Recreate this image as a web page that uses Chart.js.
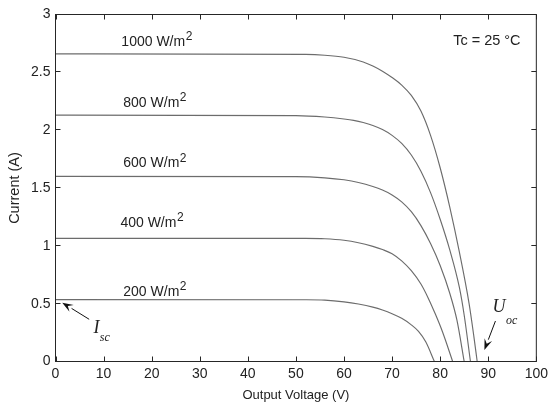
<!DOCTYPE html>
<html>
<head>
<meta charset="utf-8">
<script src="https://cdn.jsdelivr.net/npm/chart.js@4.4.1/dist/chart.umd.min.js"></script>
<style>
  html, body { margin: 0; padding: 0; background: #fff; }
  canvas { display: block; }
</style>
</head>
<body>
<canvas id="iv" width="552" height="403"></canvas>
<script>
// I-V characteristics of a PV array at several irradiance levels (Tc = 25 °C)
const irradiances = ['1000', '800', '600', '400', '200'];

const voltage1000 = [0, 52, 56, 60, 64, 66, 68, 70, 72, 74, 76, 78, 80, 82, 84, 86, 87, 87.7];
const current1000 = [2.66, 2.655, 2.648, 2.63, 2.59, 2.555, 2.51, 2.455, 2.39, 2.30, 2.165, 1.955, 1.675, 1.335, 0.945, 0.505, 0.22, 0];

const voltage800 = [0, 50, 56, 60, 62, 64, 66, 68, 70, 72, 74, 76, 78, 80, 82, 84, 85, 86.3];
const current800 = [2.13, 2.126, 2.114, 2.097, 2.085, 2.066, 2.04, 2.005, 1.955, 1.885, 1.785, 1.645, 1.46, 1.23, 0.965, 0.64, 0.40, 0];

const voltage600 = [0, 50, 56, 60, 63, 66, 68, 70, 72, 74, 76, 78, 80, 82, 83.5, 85];
const current600 = [1.60, 1.598, 1.588, 1.571, 1.548, 1.513, 1.482, 1.44, 1.38, 1.295, 1.175, 1.02, 0.83, 0.59, 0.355, 0];

const voltage400 = [0, 52, 56, 60, 63, 66, 68, 70, 72, 74, 76, 77.5, 79, 80.5, 82.6];
const current400 = [1.065, 1.064, 1.061, 1.048, 1.027, 0.995, 0.968, 0.932, 0.87, 0.785, 0.67, 0.55, 0.41, 0.255, 0];

const voltage200 = [0, 52, 56, 60, 63, 66, 68, 70, 72, 74, 75.5, 77, 78.8];
const current200 = [0.535, 0.534, 0.531, 0.516, 0.497, 0.47, 0.445, 0.413, 0.373, 0.317, 0.26, 0.17, 0];

const xTicks = [0, 10, 20, 30, 40, 50, 60, 70, 80, 90, 100];
const yTicks = [0, 0.5, 1, 1.5, 2, 2.5, 3];

// where each irradiance caption sits (data units: left edge, vertical centre)
const captionX = [13.7, 14.1, 14.1, 13.5, 14.1];
const captionY = [2.762, 2.234, 1.714, 1.199, 0.602];

const seriesV = [voltage1000, voltage800, voltage600, voltage400, voltage200];
const seriesI = [current1000, current800, current600, current400, current200];

const datasets = irradiances.map((g, k) => ({
  label: g + ' W/m2',
  data: seriesV[k].map((v, i) => ({ x: v, y: seriesI[k][i] })),
  borderColor: '#6c6c6c',
  borderWidth: 1.15,
  pointRadius: 0,
  fill: false,
  cubicInterpolationMode: 'monotone'
}));

const SANS = '"Liberation Sans", Arial, sans-serif';
const SERIF = '"Liberation Serif", "Times New Roman", serif';

function arrow(ctx, x1, y1, x2, y2) {
  const ang = Math.atan2(y2 - y1, x2 - x1);
  const len = 11, half = 4;
  const bx = x2 - len * Math.cos(ang), by = y2 - len * Math.sin(ang);
  ctx.beginPath();
  ctx.moveTo(x1, y1);
  ctx.lineTo(bx, by);
  ctx.stroke();
  ctx.beginPath();
  ctx.moveTo(x2, y2);
  ctx.lineTo(bx + half * Math.sin(ang), by - half * Math.cos(ang));
  ctx.lineTo(x2 - 0.6 * len * Math.cos(ang), y2 - 0.6 * len * Math.sin(ang));
  ctx.lineTo(bx - half * Math.sin(ang), by + half * Math.cos(ang));
  ctx.closePath();
  ctx.fill();
}

const decor = {
  id: 'decor',
  afterDraw(chart) {
    const { ctx, chartArea: a, scales: { x, y } } = chart;
    ctx.save();

    // axes box
    ctx.strokeStyle = '#262626';
    ctx.lineWidth = 1;
    ctx.strokeRect(a.left, a.top, a.right - a.left, a.bottom - a.top);

    // inward tick marks on all four sides
    const tl = 5;
    ctx.beginPath();
    xTicks.forEach(v => {
      const px = Math.round(x.getPixelForValue(v)) + 0.5;
      ctx.moveTo(px, a.bottom); ctx.lineTo(px, a.bottom - tl);
      ctx.moveTo(px, a.top); ctx.lineTo(px, a.top + tl);
    });
    yTicks.forEach(v => {
      const py = Math.round(y.getPixelForValue(v)) - 0.5;
      ctx.moveTo(a.left, py); ctx.lineTo(a.left + tl, py);
      ctx.moveTo(a.right, py); ctx.lineTo(a.right - tl, py);
    });
    ctx.stroke();

    // irradiance captions
    ctx.fillStyle = '#222';
    ctx.textBaseline = 'middle';
    ctx.textAlign = 'left';
    irradiances.forEach((g, k) => {
      const px = x.getPixelForValue(captionX[k]);
      const py = y.getPixelForValue(captionY[k]);
      const main = g + ' W/m';
      ctx.font = '14px ' + SANS;
      ctx.fillText(main, px, py);
      const w = ctx.measureText(main).width;
      ctx.font = '12px ' + SANS;
      ctx.fillText('2', px + w + 0.5, py - 5);
    });

    // temperature note
    ctx.font = '14.5px ' + SANS;
    ctx.fillText('Tc = 25 \u00B0C', x.getPixelForValue(82.7), y.getPixelForValue(2.775));

    // short-circuit current marker
    ctx.strokeStyle = '#111';
    ctx.fillStyle = '#111';
    ctx.lineWidth = 1;
    arrow(ctx, x.getPixelForValue(7.0), y.getPixelForValue(0.365),
               x.getPixelForValue(1.4), y.getPixelForValue(0.509));
    ctx.font = 'italic 18px ' + SERIF;
    ctx.fillStyle = '#222';
    ctx.fillText('I', x.getPixelForValue(7.9), y.getPixelForValue(0.285));
    ctx.font = 'italic 12px ' + SERIF;
    ctx.fillText('sc', x.getPixelForValue(9.2), y.getPixelForValue(0.205));

    // open-circuit voltage marker
    ctx.fillStyle = '#111';
    arrow(ctx, x.getPixelForValue(91.5), y.getPixelForValue(0.35),
               x.getPixelForValue(89.2), y.getPixelForValue(0.10));
    ctx.fillStyle = '#222';
    ctx.font = 'italic 18px ' + SERIF;
    ctx.fillText('U', x.getPixelForValue(90.9), y.getPixelForValue(0.47));
    ctx.font = 'italic 12px ' + SERIF;
    ctx.fillText('oc', x.getPixelForValue(93.7), y.getPixelForValue(0.35));

    ctx.restore();
  }
};

new Chart(document.getElementById('iv'), {
  type: 'line',
  data: { datasets },
  plugins: [decor],
  options: {
    responsive: false,
    animation: false,
    events: [],
    layout: { padding: { top: 14.5, right: 12.5, left: 0, bottom: 0 } },
    plugins: { legend: { display: false }, tooltip: { enabled: false } },
    scales: {
      x: {
        type: 'linear',
        min: 0, max: 100,
        afterBuildTicks: s => { s.ticks = xTicks.map(v => ({ value: v })); },
        afterFit: s => { s.height = 41.5; },
        grid: { display: false, drawTicks: false },
        border: { display: false },
        ticks: { font: { family: SANS, size: 14 }, color: '#222', padding: 4, maxRotation: 0,
                 callback: v => String(v) },
        title: { display: true, text: 'Output Voltage (V)', font: { family: SANS, size: 13 }, color: '#222', padding: { top: 0, bottom: 0 } }
      },
      y: {
        type: 'linear',
        min: 0, max: 3,
        afterBuildTicks: s => { s.ticks = yTicks.map(v => ({ value: v })); },
        afterFit: s => { s.width = 55.5; },
        grid: { display: false, drawTicks: false },
        border: { display: false },
        ticks: { font: { family: SANS, size: 14 }, color: '#222', padding: 5,
                 callback: v => String(v) },
        title: { display: true, text: 'Current (A)', font: { family: SANS, size: 14.5 }, color: '#222', padding: { top: 6, bottom: 0 } }
      }
    }
  }
});
</script>
</body>
</html>
